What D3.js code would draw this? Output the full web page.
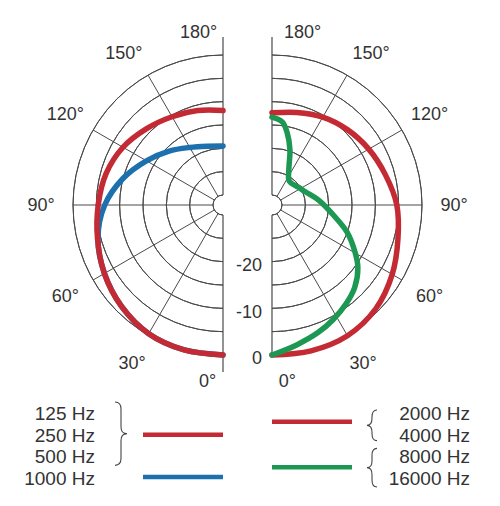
<!DOCTYPE html>
<html>
<head>
<meta charset="utf-8">
<script src="https://cdn.jsdelivr.net/npm/d3@7"></script>
<style>
  body { margin: 0; background: #fff; }
  text { font-family: "Liberation Sans", Arial, sans-serif; fill: #333; }
</style>
</head>
<body>
<svg id="dessin" width="500" height="506"></svg>
<script>
// angles (deg, 0 = front / bottom) and levels in dB
let angles = [0, 15, 30, 45, 60, 75, 90, 105, 120, 135, 150, 165, 180];
let niveau125a500 = [0, 0, -0.3, -1.4, -2.8, -4.3, -5.4, -6.2, -7.4, -9.0, -10.3, -11.2, -11.9];
let niveau1000 = [0, 0, -0.3, -1.4, -2.8, -4.4, -6.8, -10.0, -13.2, -15.8, -17.9, -19.1, -19.5];
let niveau2000a4000 = [0, 0.2, 0.2, -0.7, -2.4, -4.2, -5.4, -7.0, -8.2, -9.3, -10.4, -11.6, -12.4];
let anglesAigus = [0, 10, 20, 28, 37, 45, 54, 61, 70, 80, 96, 111, 125, 140, 146, 156, 162, 168, 173, 180];
let niveau8000a16000 = [0, -1.7, -3.1, -4.3, -5.7, -7.1, -9.4, -11.9, -15.0, -18.6, -22.1, -24.4, -25.4, -25.9, -25.7, -23.2, -19.7, -16.4, -14.2, -13.3];

let anneaux = [-30, -25, -20, -15, -10, -5, 0];
let rayons = [30, 60, 90, 120, 150];
let etiquettesAngle = [0, 30, 60, 90, 120, 150, 180];
let etiquettesDb = [-20, -10, 0];

let legendeGauche = ["125 Hz", "250 Hz", "500 Hz", "1000 Hz"];
let legendeDroite = ["2000 Hz", "4000 Hz", "8000 Hz", "16000 Hz"];

const rouge = "#c32a33", bleu = "#1c70ae", vert = "#1d9853";

const r = d3.scaleLinear().domain([-30, 0]).range([10, 150]);
const cy = 205;
const centres = { gauche: 223, droite: 272 };

// screen angle for d3 (0 = up, clockwise)
function versAngle(theta, cote) {
  let rad = theta * Math.PI / 180;
  return cote === "droite" ? Math.PI - rad : Math.PI + rad;
}
function polaire(theta, rr, cote) {
  let a = versAngle(theta, cote);
  return [centres[cote] + rr * Math.sin(a), cy - rr * Math.cos(a)];
}

const svg = d3.select("#dessin");

["gauche", "droite"].forEach(cote => {
  const g = svg.append("g").attr("transform", `translate(${centres[cote]},${cy})`);
  const a0 = cote === "droite" ? 0 : Math.PI;

  g.selectAll(".anneau")
    .data(anneaux)
    .enter()
    .append("path")
    .attr("d", d => d3.arc().innerRadius(r(d)).outerRadius(r(d)).startAngle(a0).endAngle(a0 + Math.PI)())
    .attr("fill", "none")
    .attr("stroke", "#4a4a4a")
    .attr("stroke-width", 1);

  g.selectAll(".rayon")
    .data(rayons)
    .enter()
    .append("line")
    .attr("x1", d => r(-30) * Math.sin(versAngle(d, cote)))
    .attr("y1", d => -r(-30) * Math.cos(versAngle(d, cote)))
    .attr("x2", d => r(0) * Math.sin(versAngle(d, cote)))
    .attr("y2", d => -r(0) * Math.cos(versAngle(d, cote)))
    .attr("stroke", "#4a4a4a")
    .attr("stroke-width", 1);

  // vertical axis, broken by the hole
  const bas = cote === "gauche" ? r(0) + 17 : r(0);
  g.append("line").attr("x1", 0).attr("x2", 0).attr("y1", -r(0) - 18).attr("y2", -r(-30))
    .attr("stroke", "#4a4a4a").attr("stroke-width", 1.2);
  g.append("line").attr("x1", 0).attr("x2", 0).attr("y1", r(-30)).attr("y2", bas)
    .attr("stroke", "#4a4a4a").attr("stroke-width", 1.2);

  // degree labels
  svg.selectAll(".deg-" + cote)
    .data(etiquettesAngle)
    .enter()
    .append("text")
    .attr("class", "deg-" + cote)
    .attr("x", d => {
      let t = d === 0 ? 5 : d === 180 ? (cote === "gauche" ? 172 : 170) : d === 150 ? 147 : d;
      return polaire(t, d === 0 || d === 180 ? 176 : 182, cote)[0];
    })
    .attr("y", d => {
      let t = d === 0 ? 5 : d === 180 ? 171 : d === 150 ? 147 : d;
      return polaire(t, d === 0 || d === 180 ? 176 : 182, cote)[1];
    })
    .attr("dy", "0.36em")
    .attr("text-anchor", "middle")
    .style("font-size", "18px")
    .text(d => d + "°");
});

// dB labels on the right axis
svg.selectAll(".db")
  .data(etiquettesDb)
  .enter()
  .append("text")
  .attr("x", centres.droite - 10)
  .attr("y", d => cy + r(d) + 3)
  .attr("dy", "0.36em")
  .attr("text-anchor", "end")
  .style("font-size", "18px")
  .text(d => d);

// curves
function courbe(angs, vals, cote, couleur) {
  const ligne = d3.lineRadial()
    .angle(d => versAngle(d[0], cote))
    .radius(d => r(d[1]))
    .curve(d3.curveCatmullRom.alpha(0.5));
  svg.append("path")
    .attr("transform", `translate(${centres[cote]},${cy})`)
    .attr("d", ligne(d3.zip(angs, vals)))
    .attr("fill", "none")
    .attr("stroke", couleur)
    .attr("stroke-width", 5.5)
    .attr("stroke-linecap", "round");
}
courbe(angles, niveau1000, "gauche", bleu);
courbe(angles, niveau125a500, "gauche", rouge);
courbe(angles, niveau2000a4000, "droite", rouge);
courbe(anglesAigus, niveau8000a16000, "droite", vert);

// legend
const ligneY = d3.scaleLinear().domain([0, 3]).range([413, 478]);

svg.selectAll(".lg")
  .data(legendeGauche)
  .enter()
  .append("text")
  .attr("x", 95)
  .attr("y", (d, i) => ligneY(i))
  .attr("dy", "0.36em")
  .attr("text-anchor", "end")
  .style("font-size", "19px")
  .text(d => d);

svg.selectAll(".ld")
  .data(legendeDroite)
  .enter()
  .append("text")
  .attr("x", 470)
  .attr("y", (d, i) => ligneY(i))
  .attr("dy", "0.36em")
  .attr("text-anchor", "end")
  .style("font-size", "19px")
  .text(d => d);

// braces: x of the arms, x of the tip, top, bottom
function accolade(xBras, xPointe, haut, bas) {
  const xm = (xBras + xPointe) / 2, ym = (haut + bas) / 2, k = 7;
  const p = d3.path();
  p.moveTo(xBras, haut);
  p.quadraticCurveTo(xm, haut, xm, haut + k);
  p.lineTo(xm, ym - k);
  p.quadraticCurveTo(xm, ym, xPointe, ym);
  p.quadraticCurveTo(xm, ym, xm, ym + k);
  p.lineTo(xm, bas - k);
  p.quadraticCurveTo(xm, bas, xBras, bas);
  svg.append("path").attr("d", p.toString())
    .attr("fill", "none").attr("stroke", "#444").attr("stroke-width", 1.1);
}
accolade(115, 127, ligneY(0) - 11, ligneY(2) + 9);
accolade(377, 367, ligneY(0) - 3, ligneY(1) + 6);
accolade(377, 367, ligneY(2) - 8, ligneY(3) + 9);

// legend swatches
let echantillons = [
  { x0: 143, x1: 223, y: (ligneY(0) + ligneY(2)) / 2, c: rouge },
  { x0: 143, x1: 223, y: ligneY(3) - 1, c: bleu },
  { x0: 272, x1: 352, y: (ligneY(0) + ligneY(1)) / 2 - 2, c: rouge },
  { x0: 272, x1: 352, y: (ligneY(2) + ligneY(3)) / 2, c: vert }
];
svg.selectAll(".ech")
  .data(echantillons)
  .enter()
  .append("line")
  .attr("x1", d => d.x0).attr("x2", d => d.x1)
  .attr("y1", d => d.y).attr("y2", d => d.y)
  .attr("stroke", d => d.c)
  .attr("stroke-width", 4.5);
</script>
</body>
</html>
